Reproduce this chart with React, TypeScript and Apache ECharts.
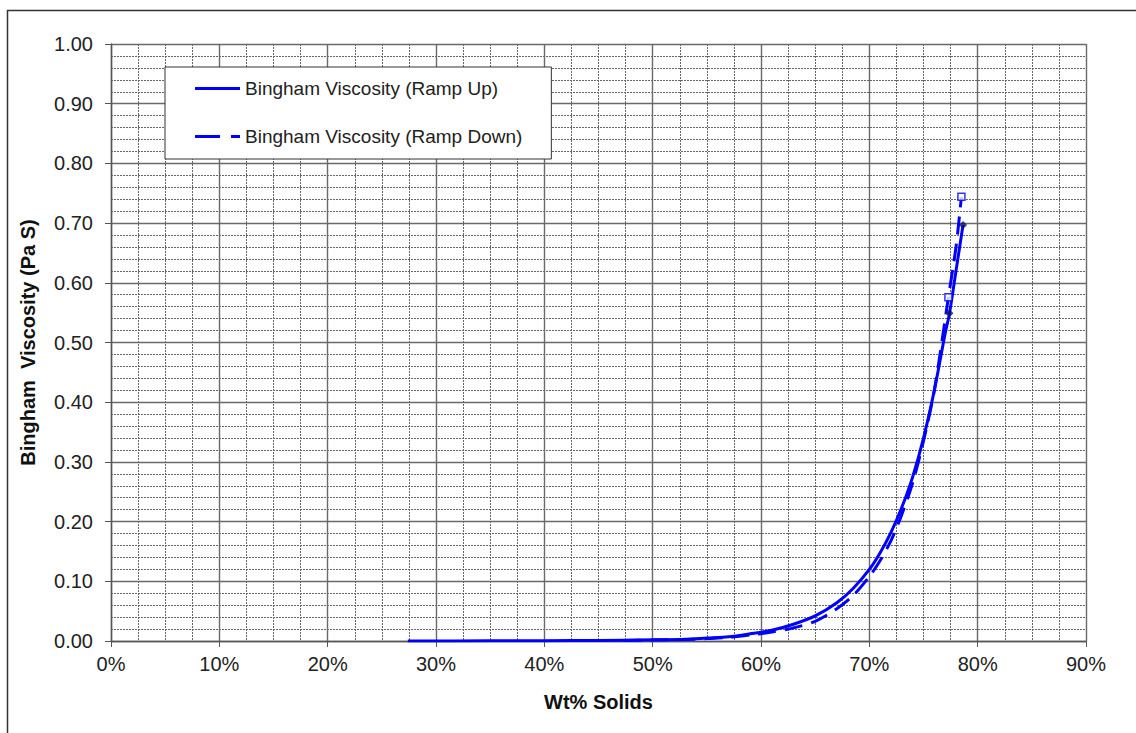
import React, { useEffect, useRef } from "react";
import * as echarts from "echarts";

// Weight-percent solids (x) and Bingham viscosity in Pa·s (y)
const rampUpWt = [27.4, 35, 40, 45, 50, 53, 55, 57, 59, 61, 63, 65, 67, 68.5, 70, 71, 72, 73, 74, 75, 76, 77, 77.4, 78, 78.65];
const rampUpVisc = [0, 0.0003, 0.0006, 0.001, 0.002, 0.003, 0.005, 0.007, 0.012, 0.018, 0.028, 0.042, 0.064, 0.088, 0.12, 0.148, 0.182, 0.224, 0.275, 0.34, 0.42, 0.515, 0.549, 0.62, 0.697];

const rampDownWt = [47.3, 50, 53, 55, 57, 59, 61, 63, 65, 67, 68.5, 70, 71, 72, 73, 74, 75, 76, 77.3, 78, 78.5];
const rampDownVisc = [0.001, 0.0015, 0.0025, 0.004, 0.006, 0.01, 0.015, 0.022, 0.033, 0.054, 0.076, 0.108, 0.135, 0.168, 0.212, 0.265, 0.335, 0.42, 0.576, 0.66, 0.744];

// Measured end points shown with markers
const rampUpMarkWt = [77.4, 78.65];
const rampUpMarkVisc = [0.549, 0.697];
const rampDownMarkWt = [77.3, 78.5];
const rampDownMarkVisc = [0.576, 0.744];

const xTicks = { min: 0, max: 90, step: 10 };
const yTicks = { min: 0, max: 1, step: 0.1 };

const SERIES_UP = "Bingham Viscosity (Ramp Up)";
const SERIES_DOWN = "Bingham Viscosity (Ramp Down)";

const FONT = "'Liberation Sans', Arial, sans-serif";

// Legend swatches: a solid bar and a long-short dash
const ICON_SOLID = "path://M0,0h45v3h-45z";
const ICON_DASHED = "path://M0,0h25v3h-25zM36,0h9v3h-9z";

function pairs(xs: number[], ys: number[]) {
  return xs.map((x, i) => [x, ys[i]]);
}

export default function App() {
  const ref = useRef<HTMLDivElement>(null);

  useEffect(() => {
    if (!ref.current) return;
    const chart = echarts.init(ref.current, undefined, { renderer: "svg" });

    const majorLine = { show: true, lineStyle: { color: "#6a6a6a", width: 1.4, type: "solid" as const } };
    const minorLine = { show: true, lineStyle: { color: "#666", width: 1, type: [2, 1] as any } };

    chart.setOption({
      animation: false,
      backgroundColor: "#fff",
      textStyle: { fontFamily: FONT },
      grid: { left: 111, right: 50, top: 44, bottom: 92, containLabel: false },
      legend: {
        data: [
          { name: SERIES_UP, icon: ICON_SOLID },
          { name: SERIES_DOWN, icon: ICON_DASHED },
        ],
        orient: "vertical",
        left: 165,
        top: 67,
        padding: [12, 29, 13, 30],
        itemWidth: 45,
        itemHeight: 3,
        itemGap: 29,
        backgroundColor: "#fff",
        borderColor: "#333",
        borderWidth: 1,
        textStyle: { fontFamily: FONT, fontSize: 19, color: "#222" },
      },
      xAxis: {
        type: "value",
        min: xTicks.min,
        max: xTicks.max,
        interval: xTicks.step,
        name: "Wt% Solids",
        nameLocation: "middle",
        nameGap: 51,
        nameTextStyle: { fontFamily: FONT, fontSize: 20, fontWeight: "bold", color: "#111" },
        axisLine: { show: true, lineStyle: { color: "#555", width: 1.4 } },
        axisTick: { show: true, length: 6, lineStyle: { color: "#555" } },
        axisLabel: { fontFamily: FONT, fontSize: 20, color: "#222", margin: 13, formatter: (v: number) => `${v}%` },
        splitLine: majorLine,
        minorTick: { show: false, splitNumber: 4 },
        minorSplitLine: minorLine,
      },
      yAxis: {
        type: "value",
        min: yTicks.min,
        max: yTicks.max,
        interval: yTicks.step,
        name: "Bingham  Viscosity (Pa S)",
        nameLocation: "middle",
        nameGap: 73,
        nameTextStyle: { fontFamily: FONT, fontSize: 20, fontWeight: "bold", color: "#111" },
        axisLine: { show: true, lineStyle: { color: "#555", width: 1.4 } },
        axisTick: { show: true, length: 6, lineStyle: { color: "#555" } },
        axisLabel: { fontFamily: FONT, fontSize: 20, color: "#222", margin: 18, formatter: (v: number) => v.toFixed(2) },
        splitLine: majorLine,
        minorTick: { show: false, splitNumber: 5 },
        minorSplitLine: minorLine,
      },
      series: [
        {
          name: SERIES_UP,
          type: "line",
          data: pairs(rampUpWt, rampUpVisc),
          smooth: 0.3,
          symbol: "none",
          lineStyle: { color: "#0000ff", width: 3 },
          itemStyle: { color: "#0000ff" },
          z: 3,
        },
        {
          name: SERIES_DOWN,
          type: "line",
          data: pairs(rampDownWt, rampDownVisc),
          smooth: 0.3,
          symbol: "none",
          lineStyle: { color: "#0000ff", width: 3, type: [18, 9] },
          itemStyle: { color: "#0000ff" },
          z: 3,
        },
        {
          name: "Ramp Up points",
          type: "scatter",
          data: pairs(rampUpMarkWt, rampUpMarkVisc),
          symbol: "diamond",
          symbolSize: 8,
          itemStyle: { color: "#10106e" },
          z: 4,
        },
        {
          name: "Ramp Down points",
          type: "scatter",
          data: pairs(rampDownMarkWt, rampDownMarkVisc),
          symbol: "rect",
          symbolSize: 7,
          itemStyle: { color: "#fff", borderColor: "#0000ff", borderWidth: 1.5 },
          z: 4,
        },
      ],
      graphic: [
        {
          type: "rect",
          left: 5,
          top: 8,
          shape: { width: 1200, height: 800 },
          style: { fill: "none", stroke: "#333", lineWidth: 1.5 },
          silent: true,
          z: -1,
        },
      ],
    });

    return () => chart.dispose();
  }, []);

  return (
    <div
      ref={ref}
      style={{ position: "fixed", left: 0, top: 0, width: 1136, height: 733 }}
    />
  );
}
